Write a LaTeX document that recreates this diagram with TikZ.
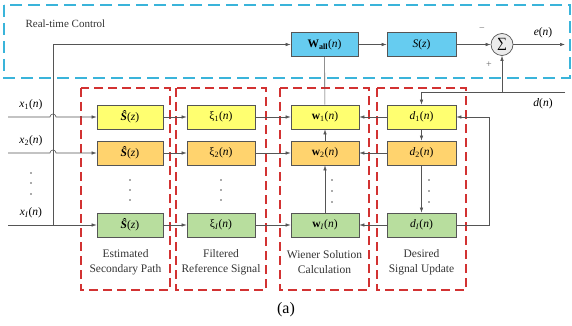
\documentclass[tikz,border=0pt]{standalone}
\usepackage{fontspec}
\setmainfont{Liberation Serif}
\usetikzlibrary{arrows.meta}
\definecolor{cblue}{HTML}{66CCF0}
\definecolor{cyel}{HTML}{FFFF70}
\definecolor{corg}{HTML}{FFD36E}
\definecolor{cgrn}{HTML}{B8DE9E}
\definecolor{cred}{HTML}{D23232}
\definecolor{cdash}{HTML}{3AB4DA}
\definecolor{cline}{HTML}{555555}
\newcommand{\nn}{(\textit{n})}
\begin{document}
\begin{tikzpicture}[x=1pt,y=-1pt,
  blk/.style={draw=cline, line width=0.7pt, minimum height=24pt, inner sep=0pt, font=\fontsize{11.5}{13}\selectfont},
  arr/.style={-{Latex[length=5pt,width=3.5pt]}, draw=cline, line width=0.6pt},
  ln/.style={draw=cline, line width=0.6pt},
  reddash/.style={draw=cred, dash pattern=on 9pt off 5pt, line width=1.3pt},
  bluedash/.style={draw=cdash, dash pattern=on 12pt off 6pt, line width=1.2pt},
  lbl/.style={font=\fontsize{11.5}{13}\selectfont, inner sep=1pt},
  captxt/.style={font=\fontsize{11.5}{15}\selectfont, align=center, text=black!80},
  dotc/.style={fill=cline, circle, inner sep=0pt, minimum size=1.6pt}]
\useasboundingbox (0,0) rectangle (572,326);

% frames
\draw[bluedash] (4,5) rectangle (570,78);
\node[font=\fontsize{11}{13}\selectfont, anchor=west, text=black!80] (rtc) at (22,24) {Real-time Control};
\draw[reddash] (81,88) rectangle (170,290);
\draw[reddash] (176,88) rectangle (266,290);
\draw[reddash] (280,88) rectangle (369,290);
\draw[reddash] (377,88) rectangle (466,290);

% top blocks
\node[blk, fill=cblue, minimum width=67pt] (wall) at (324.5,44.5) {\textbf{W}\textsubscript{\textbf{all}}\nn};
\node[blk, fill=cblue, minimum width=69pt] (sz) at (421.5,44.5) {\textit{S}(\textit{z})};
\node[draw=cline, line width=0.7pt, fill=black!8, circle, minimum size=22pt, inner sep=0pt, font=\fontsize{14}{14}\selectfont] (sum) at (502,44.5) {∑};

% rows
\foreach \r/\s/\y/\c in {1/1/117/cyel, 2/2/153/corg, I/\textit{I}/225/cgrn}{
  \node[blk, fill=\c, minimum width=66pt] (sh\r) at (130,\y) {\textbf{\textit{Ŝ}}(\textit{z})};
  \node[blk, fill=\c, minimum width=68pt] (xi\r) at (221,\y) {ξ\textsubscript{\s}\nn};
  \node[blk, fill=\c, minimum width=68pt] (w\r) at (325,\y) {\textbf{w}\textsubscript{\s}\nn};
  \node[blk, fill=\c, minimum width=69pt] (d\r) at (421.5,\y) {\textit{d}\textsubscript{\s}\nn};
  \coordinate (in\r) at (8,\y);
  \draw[arr] (sh\r) -- (xi\r);
  \draw[arr] (xi\r) -- (w\r);
  \draw[arr] (d\r) -- (w\r);
}

% input labels
\node[lbl] (lx1) at (31,105) {\textit{x}\textsubscript{1}\nn};
\node[lbl] (lx2) at (31,141) {\textit{x}\textsubscript{2}\nn};
\node[lbl] (lxI) at (31,213) {\textit{x}\textsubscript{\textit{I}}\nn};
\foreach \yy in {173,183,194}{ \node[dotc] at (31,\yy) {}; }
\foreach \x in {130,221}{
  \foreach \yy in {180,190,200}{ \node[dotc] at (\x,\yy) {}; }
}
\foreach \yy in {180,191,202}{ \node[dotc] at (332,\yy) {}; \node[dotc] at (429,\yy) {}; }

% input distribution
\coordinate (tap) at (53,44.5);
\coordinate (tapI) at (53,225);
\draw[ln] (tapI) -- (tap);
\draw[arr] (tap) -- (wall);
\draw[arr] (in1) -- (50,117) arc[start angle=180, end angle=360, radius=3] -- (sh1);
\draw[arr] (in2) -- (50,153) arc[start angle=180, end angle=360, radius=3] -- (sh2);
\draw[arr] (inI) -- (shI);

% top path
\draw[arr] (wall) -- (sz);
\draw[arr] (sz) -- (sum);
\coordinate (eout) at (565,44.5);
\draw[arr] (sum) -- (eout);
\node[lbl] (le) at (543,33) {\textit{e}\nn};
\node[font=\fontsize{10}{10}\selectfont, text=black!60] (minus) at (482,30) {−};
\node[font=\fontsize{10}{10}\selectfont, text=black!60] (plus) at (489,65) {+};

% d(n)
\coordinate (din) at (565,92);
\coordinate (dsum) at (502,92);
\coordinate (dcorner) at (421.5,92);
\draw[ln] (din) -- (dcorner);
\draw[arr] (dcorner) -- (d1);
\draw[arr] (dsum) -- (sum);
\node[lbl] (ld) at (543,104) {\textit{d}\nn};

% W_all to w1
\draw[ln] (wall) -- (w1);

% vertical chains
\draw[arr] (w2) -- (w1);
\draw[arr] (wI) -- (w2);
\draw[arr] (d1) -- (d2);
\draw[arr] (d2) -- (dI);

% feedback
\coordinate (fb1) at (489,225);
\coordinate (fb2) at (489,117);
\draw[arr] (dI.east) -- (fb1) -- (fb2) -- (d1.east);

% captions
\node[captxt] (c1) at (125.5,262) {Estimated\\Secondary Path};
\node[captxt] (c2) at (221,262) {Filtered\\Reference Signal};
\node[captxt] (c3) at (324.5,262) {Wiener Solution\\Calculation};
\node[captxt] (c4) at (421.5,262) {Desired\\Signal Update};
\node[font=\fontsize{16}{18}\selectfont] (lab) at (286,310) {(a)};
\end{tikzpicture}
\end{document}
